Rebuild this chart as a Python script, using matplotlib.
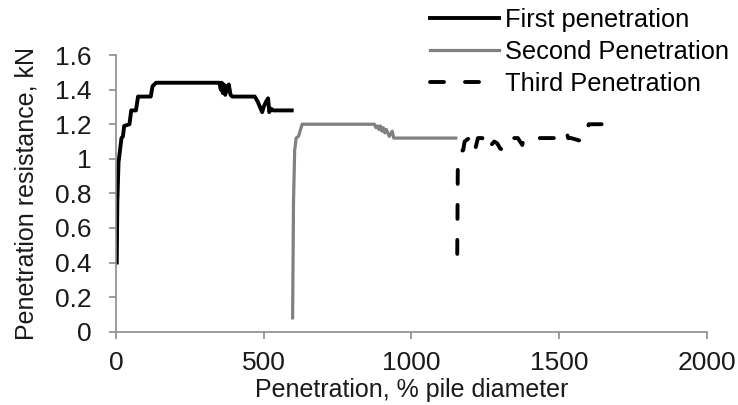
import numpy as np
import matplotlib.pyplot as plt

plt.rcParams['font.family'] = ['Liberation Sans', 'DejaVu Sans']

# ---------------- DATA ----------------
first_x = [3, 5, 9, 14, 19, 24, 28, 46, 52, 68, 75, 118, 124, 136, 350, 355, 358, 362, 365,
           370, 374, 378, 382, 388, 394, 470, 480, 495, 500, 508, 515, 519, 525, 532, 595]
first_y = [0.40, 0.75, 0.98, 1.05, 1.12, 1.13, 1.19, 1.20, 1.28, 1.28, 1.36, 1.36, 1.42, 1.44,
           1.44, 1.40, 1.44, 1.38, 1.43, 1.37, 1.42, 1.39, 1.43, 1.37, 1.36, 1.36, 1.33, 1.27,
           1.30, 1.33, 1.35, 1.27, 1.29, 1.28, 1.28]

second_x = [598, 601, 605, 610, 618, 630, 875, 880, 885, 890, 895, 900, 905, 910, 915, 925,
            935, 940, 960, 1150]
second_y = [0.08, 0.75, 1.05, 1.12, 1.13, 1.20, 1.20, 1.18, 1.19, 1.17, 1.19, 1.16, 1.18, 1.15,
            1.17, 1.13, 1.16, 1.12, 1.12, 1.12]

third_x = [1155, 1157, 1165, 1175, 1180, 1195, 1200, 1205, 1215, 1225, 1240, 1250, 1260, 1270,
           1280, 1290, 1300, 1310, 1325, 1335, 1345, 1360, 1375, 1380, 1400, 1450, 1510, 1525,
           1530, 1540, 1580, 1590, 1600, 1655]
third_y = [0.45, 1.00, 1.04, 1.05, 1.10, 1.12, 1.12, 1.05, 1.05, 1.12, 1.12, 1.06, 1.05, 1.08,
           1.10, 1.09, 1.06, 1.05, 1.05, 1.08, 1.12, 1.12, 1.08, 1.12, 1.12, 1.12, 1.12, 1.16,
           1.12, 1.12, 1.10, 1.15, 1.20, 1.20]

x_ticks = [0, 500, 1000, 1500, 2000]
y_ticks = [0, 0.2, 0.4, 0.6, 0.8, 1, 1.2, 1.4, 1.6]
y_tick_labels = ['0', '0.2', '0.4', '0.6', '0.8', '1', '1.2', '1.4', '1.6']

# ---------------- PLOT ----------------
fig = plt.figure(figsize=(7.38, 4.05), dpi=100)
ax = fig.add_axes([0.157, 0.181, 0.801, 0.683])

ax.plot(first_x, first_y, color='black', lw=2.8, label='First penetration',
        solid_joinstyle='round')
ax.plot(second_x, second_y, color='#808080', lw=2.3, label='Second Penetration',
        solid_joinstyle='round')
ax.plot(third_x, third_y, color='black', lw=2.8, linestyle=(0, (3.6, 5.4)),
        dash_capstyle='round', label='Third Penetration')

ax.set_xlim(0, 2000)
ax.set_ylim(0, 1.6)
ax.set_xticks(x_ticks)
ax.set_yticks(y_ticks)
ax.set_yticklabels(y_tick_labels)

for side in ['top', 'right']:
    ax.spines[side].set_visible(False)
for side in ['left', 'bottom']:
    ax.spines[side].set_color('#8c8c8c')
    ax.spines[side].set_linewidth(1.2)
ax.tick_params(axis='both', colors='#8c8c8c', width=1.2, length=5, labelsize=19,
               labelcolor='#1a1a1a')
ax.tick_params(axis='y', pad=12.5)
ax.tick_params(axis='x', pad=9)

ax.set_xlabel('Penetration, % pile diameter', fontsize=18, color='#1a1a1a', labelpad=2)
ax.set_ylabel('Penetration resistance, kN', fontsize=18, color='#1a1a1a', labelpad=12)

fig.legend(loc='upper left', bbox_to_anchor=(0.559, 1.024), frameon=False, fontsize=18.3,
           handlelength=2.7, handletextpad=0.25, labelspacing=0.32, borderpad=0.2)

plt.savefig('out.png', dpi=100)
